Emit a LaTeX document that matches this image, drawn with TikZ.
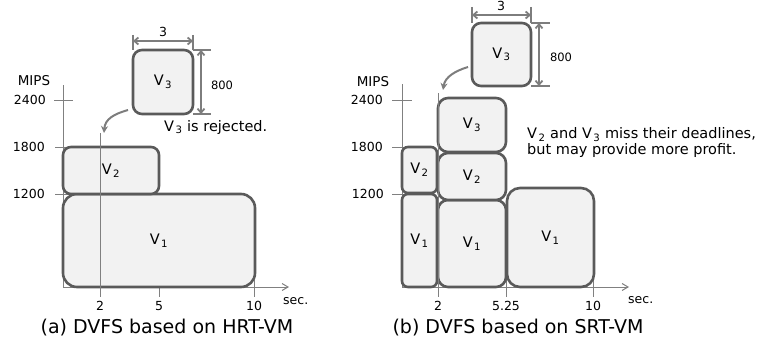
\documentclass[tikz,border=0pt]{standalone}
\usepackage{fontspec}
\setmainfont{DejaVu Sans}
\usepackage{tikz}
\usetikzlibrary{positioning, calc, arrows.meta}
\definecolor{boxLine}{RGB}{90, 90, 90}
\definecolor{boxFill}{RGB}{242, 242, 242}
\definecolor{axisGray}{RGB}{128, 128, 128}
\definecolor{dimGray}{RGB}{125, 125, 125}
\newcommand{\vsub}[1]{V\kern1.5pt\textsubscript{#1}}
\tikzset{
  vmbox/.style={rectangle, draw=boxLine, fill=boxFill, line width=2.6pt,
                inner sep=0pt, outer sep=0pt, rounded corners=9pt,
                align=center, font=\fontsize{14.5}{16}\selectfont},
  axisline/.style={draw=axisGray, line width=1pt},
  axisarrow/.style={axisline, -{Straight Barb[length=6pt, width=7pt]}},
  extline/.style={draw=dimGray, line width=1.1pt},
  dimline/.style={draw=dimGray, line width=1.8pt,
                  {Straight Barb[length=4pt, width=7pt]}-{Straight Barb[length=4pt, width=7pt]}},
  droparrow/.style={draw=dimGray, line width=2pt, -{Stealth[length=7pt, width=7pt]}},
  ticklabel/.style={inner sep=0pt, font=\fontsize{12.5}{14}\selectfont},
  notetext/.style={inner sep=0pt, align=left, font=\fontsize{14.5}{15.5}\selectfont},
  captiontext/.style={inner sep=0pt, font=\fontsize{19}{21}\selectfont},
}

\begin{document}
\begin{tikzpicture}[x=1pt, y=-1pt]
    \useasboundingbox (0,0) rectangle (763,345);

    % (a) HRT-VM: axes and ticks
    \draw[axisline] (63,85) -- (63,287);
    \draw[axisarrow] (63,287) -- (289,287);
    \draw[axisline] (54,100) -- (73,100);
    \draw[axisline] (55,147) -- (72,147);
    \draw[axisline] (55,194) -- (72,194);
    \draw[axisline] (159,280) -- (159,297);
    \draw[axisline] (254,280) -- (254,297);

    \node[ticklabel, font=\fontsize{13.5}{15}\selectfont] (la-mips) at (34,81) {MIPS};
    \node[ticklabel, anchor=east] (la-2400) at (46,100) {2400};
    \node[ticklabel, anchor=east] (la-1800) at (45,147) {1800};
    \node[ticklabel, anchor=east] (la-1200) at (45,194) {1200};
    \node[ticklabel] (la-t2) at (100,306) {2};
    \node[ticklabel] (la-t5) at (159,306) {5};
    \node[ticklabel] (la-t10) at (254,306) {10};
    \node[ticklabel, anchor=west] (la-sec) at (283,301) {sec.};

    % (a) boxes
    \node[vmbox, rounded corners=14pt, minimum width=192pt, minimum height=93pt]
         (a-v1) at (159,240.5) {\vsub{1}};
    \node[vmbox, rounded corners=8pt, minimum width=96pt, minimum height=47pt]
         (a-v2) at (111,170.5) {\vsub{2}};
    \node[vmbox, minimum width=60pt, minimum height=64pt]
         (a-v3) at (163,82) {\vsub{3}};

    \coordinate (a-drop) at (104,133);
    \draw[axisline] (100,133) -- (100,297);
    \draw[droparrow] ([xshift=-5pt, yshift=4pt]a-v3.south west)
         .. controls (114,114) and (105,119) .. (a-drop);

    % (a) size of V3
    \draw[extline] ([yshift=15pt]a-v3.north west) -- (a-v3.north west);
    \draw[extline] ([yshift=15pt]a-v3.north east) -- (a-v3.north east);
    \draw[dimline] ([yshift=9pt]a-v3.north west) -- ([yshift=9pt]a-v3.north east);
    \draw[extline] (a-v3.north east) -- ([xshift=18pt]a-v3.north east);
    \draw[extline] (a-v3.south east) -- ([xshift=18pt]a-v3.south east);
    \draw[dimline] ([xshift=8pt]a-v3.north east) -- ([xshift=8pt]a-v3.south east);
    \node[ticklabel, font=\fontsize{12.5}{14}\selectfont] (a-w) at (163,32) {3};
    \node[ticklabel, font=\fontsize{11.5}{14}\selectfont] (a-h) at (222,85) {800};

    \node[notetext, anchor=west] (a-note) at (164,127) {\vsub{3} is rejected.};
    \node[captiontext] (a-cap) at (167,328) {(a) DVFS based on HRT-VM};

    % (b) SRT-VM: axes and ticks
    \draw[axisline] (402,84) -- (402,287);
    \draw[axisarrow] (402,287) -- (629,287);
    \draw[axisline] (392,100) -- (412,100);
    \draw[axisline] (392,147) -- (412,147);
    \draw[axisline] (392,194) -- (412,194);
    \draw[axisline] (506,280) -- (506,297);
    \draw[axisline] (593,280) -- (593,297);

    \node[ticklabel, font=\fontsize{13.5}{15}\selectfont] (lb-mips) at (373,82) {MIPS};
    \node[ticklabel, anchor=east] (lb-2400) at (383,100) {2400};
    \node[ticklabel, anchor=east] (lb-1800) at (383,147) {1800};
    \node[ticklabel, anchor=east] (lb-1200) at (384,194) {1200};
    \node[ticklabel] (lb-t2) at (438,306) {2};
    \node[ticklabel] (lb-t525) at (506,306) {5.25};
    \node[ticklabel] (lb-t10) at (593,306) {10};
    \node[ticklabel, anchor=west] (lb-sec) at (628,300) {sec.};

    % (b) boxes
    \node[vmbox, rounded corners=6pt, minimum width=35pt, minimum height=93pt]
         (b-v1a) at (419.5,240.5) {\vsub{1}};
    \node[vmbox, rounded corners=6pt, minimum width=35pt, minimum height=46pt]
         (b-v2a) at (419.5,170) {\vsub{2}};
    \node[vmbox, rounded corners=10pt, minimum width=68pt, minimum height=87pt]
         (b-v1b) at (472,243.5) {\vsub{1}};
    \node[vmbox, rounded corners=10pt, minimum width=68pt, minimum height=47pt]
         (b-v2b) at (472,176.5) {\vsub{2}};
    \node[vmbox, rounded corners=10pt, minimum width=68pt, minimum height=54pt]
         (b-v3b) at (472,125) {\vsub{3}};
    \node[vmbox, rounded corners=13pt, minimum width=87pt, minimum height=99pt]
         (b-v1c) at (550.5,237.5) {\vsub{1}};
    \node[vmbox, minimum width=59pt, minimum height=63pt]
         (b-v3a) at (501.5,54.5) {\vsub{3}};

    \coordinate (b-drop) at (443,90);
    \draw[axisline] (438,93) -- (438,297);
    \draw[droparrow] ([xshift=-4pt, yshift=19pt]b-v3a.south west)
         .. controls (455,71) and (445,77) .. (b-drop);

    % (b) size of V3
    \draw[extline] ([yshift=16pt]b-v3a.north west) -- (b-v3a.north west);
    \draw[extline] ([yshift=16pt]b-v3a.north east) -- (b-v3a.north east);
    \draw[dimline] ([yshift=8pt]b-v3a.north west) -- ([yshift=8pt]b-v3a.north east);
    \draw[extline] (b-v3a.north east) -- ([xshift=19pt]b-v3a.north east);
    \draw[extline] (b-v3a.south east) -- ([xshift=19pt]b-v3a.south east);
    \draw[dimline] ([xshift=8pt]b-v3a.north east) -- ([xshift=8pt]b-v3a.south east);
    \node[ticklabel, font=\fontsize{12.5}{14}\selectfont] (b-w) at (501,6) {3};
    \node[ticklabel, font=\fontsize{11.5}{14}\selectfont] (b-h) at (561,57) {800};

    \node[notetext, anchor=west] (b-note) at (527,142.5)
         {\vsub{2} and \vsub{3} miss their deadlines,\\but may provide more profit.};
    \node[captiontext] (b-cap) at (518,328) {(b) DVFS based on SRT-VM};
\end{tikzpicture}
\end{document}
